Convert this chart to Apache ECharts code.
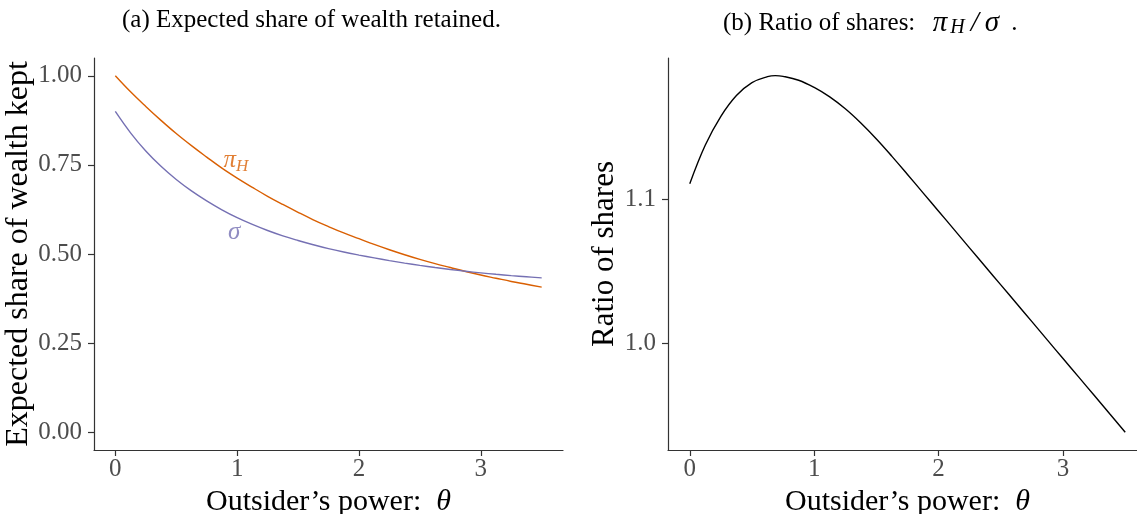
<!DOCTYPE html>
<html>
<head>
<meta charset="utf-8">
<script src="https://cdn.jsdelivr.net/npm/echarts@6/dist/echarts.min.js"></script>
<style>html,body{margin:0;padding:0;background:#fff;}#c{width:1137px;height:514px;}</style>
</head>
<body>
<div id="c"></div>
<script>
// ---- data ----
const theta = [0, 0.125, 0.25, 0.375, 0.5, 0.625, 0.75, 0.875, 1.0, 1.125, 1.25, 1.375, 1.5, 1.625, 1.75, 1.875,
               2.0, 2.125, 2.25, 2.375, 2.5, 2.625, 2.75, 2.875, 3.0, 3.125, 3.25, 3.375, 3.5];
const piH   = [1.000, 0.955, 0.914, 0.875, 0.838, 0.804, 0.772, 0.741, 0.713, 0.687, 0.662, 0.639, 0.617, 0.596, 0.577, 0.559,
               0.543, 0.527, 0.512, 0.498, 0.485, 0.473, 0.462, 0.451, 0.441, 0.432, 0.423, 0.415, 0.407];
const sigma = [0.900, 0.840, 0.789, 0.746, 0.709, 0.677, 0.649, 0.624, 0.602, 0.583, 0.566, 0.551, 0.538, 0.526, 0.515, 0.5055,
               0.497, 0.489, 0.4815, 0.4745, 0.468, 0.462, 0.4565, 0.4515, 0.447, 0.443, 0.4393, 0.436, 0.433];
// ratio curve (panel b) is read with an extra point at its peak
const thetaB = [0, 0.125, 0.25, 0.375, 0.5, 0.625, 0.6875, 0.75, 0.875, 1.0, 1.125, 1.25, 1.375, 1.5, 1.625, 1.75, 1.875,
                2.0, 2.125, 2.25, 2.375, 2.5, 2.625, 2.75, 2.875, 3.0, 3.125, 3.25, 3.375, 3.5];
const ratio = [1.111, 1.138, 1.158, 1.1725, 1.1815, 1.1856, 1.1863, 1.1858, 1.1831, 1.1781, 1.1715, 1.1632, 1.1533, 1.1422, 1.1301, 1.1175, 1.1047,
               1.0919, 1.0791, 1.0662, 1.0534, 1.0406, 1.0278, 1.0150, 1.0021, 0.9893, 0.9765, 0.9637, 0.9508, 0.938];
const xTicks = [0, 1, 2, 3];
const yTicksA = [0, 0.25, 0.5, 0.75, 1.0];
const yTicksB = [1.0, 1.1];
// label anchors (data coords)
const labelPi = [0.99, 0.762];
const labelSigma = [0.975, 0.56];

const FONT = 'Liberation Serif';
const ORANGE = '#D95F02', PURPLE = '#7570B3';
const pair = (xs, ys) => xs.map((x, i) => [x, ys[i]]);

function xAxis(idx) {
  return {
    type: 'value', gridIndex: idx, min: -0.175, max: 3.675,
    name: 'Outsider’s power:  {i|θ}', nameLocation: 'middle', nameGap: 30,
    nameTextStyle: { fontFamily: FONT, fontSize: 30, color: '#000',
      rich: { i: { fontFamily: FONT, fontSize: 30, fontStyle: 'italic', color: '#000' } } },
    splitLine: { show: false },
    axisLine: { show: true, onZero: false, lineStyle: { color: '#333', width: 1.2 } },
    axisTick: { show: true, length: 6, lineStyle: { color: '#333', width: 1.2 }, customValues: xTicks },
    axisLabel: { color: '#4d4d4d', fontFamily: FONT, fontSize: 25, margin: 7, customValues: xTicks,
      formatter: v => String(v) }
  };
}
function yAxis(idx, name, min, max, ticks, dec, gap, size) {
  return {
    type: 'value', gridIndex: idx, min: min, max: max,
    name: name, nameLocation: 'middle', nameGap: gap, nameRotate: 90,
    nameTextStyle: { fontFamily: FONT, fontSize: size, color: '#000' },
    splitLine: { show: false },
    axisLine: { show: true, onZero: false, lineStyle: { color: '#333', width: 1.2 } },
    axisTick: { show: true, length: 6, lineStyle: { color: '#333', width: 1.2 }, customValues: ticks },
    axisLabel: { color: '#4d4d4d', fontFamily: FONT, fontSize: 25, margin: 12, customValues: ticks,
      formatter: v => Number(v).toFixed(dec) }
  };
}

const chart = echarts.init(document.getElementById('c'), null, { renderer: 'canvas' });
chart.setOption({
  animation: false,
  backgroundColor: '#fff',
  title: [
    { text: '(a) Expected share of wealth retained.', left: 117, top: 3,
      textStyle: { fontFamily: FONT, fontSize: 25, fontWeight: 'normal', color: '#000' } },
    { text: '(b) Ratio of shares:  {i|π}{s|H}{m|/}{i|σ}{p|.}', left: 718, top: 3,
      textStyle: { fontFamily: FONT, fontSize: 25, fontWeight: 'normal', color: '#000', lineHeight: 30,
        rich: {
          i: { fontFamily: FONT, fontSize: 29, fontStyle: 'italic', color: '#000', lineHeight: 30, padding: [0, 0, 0, 5] },
          s: { fontFamily: FONT, fontSize: 20, fontStyle: 'italic', color: '#000', verticalAlign: 'bottom', lineHeight: 30, padding: [0, 3, 0, 3] },
          m: { fontFamily: FONT, fontSize: 29, fontStyle: 'italic', color: '#000', lineHeight: 30, padding: [0, 1, 0, 3] },
          p: { fontFamily: FONT, fontSize: 25, color: '#000', lineHeight: 30, padding: [0, 0, 0, 12] }
        } } }
  ],
  grid: [
    { left: 94, top: 58, width: 469, bottom: 64, containLabel: false, outerBoundsMode: 'none' },
    { left: 668, top: 58, right: -10, bottom: 64, containLabel: false, outerBoundsMode: 'none' }
  ],
  xAxis: [xAxis(0), xAxis(1)],
  yAxis: [
    yAxis(0, 'Expected share of wealth kept', -0.05, 1.05, yTicksA, 2, 41, 32),
    yAxis(1, 'Ratio of shares', 0.9256, 1.1986, yTicksB, 1, 46, 31)
  ],
  series: [
    { type: 'line', xAxisIndex: 0, yAxisIndex: 0, data: pair(theta, piH), smooth: 0.4,
      showSymbol: false, lineStyle: { color: ORANGE, width: 1.4 } },
    { type: 'line', xAxisIndex: 0, yAxisIndex: 0, data: pair(theta, sigma), smooth: 0.4,
      showSymbol: false, lineStyle: { color: PURPLE, width: 1.4 } },
    { type: 'line', xAxisIndex: 1, yAxisIndex: 1, data: pair(thetaB, ratio), smooth: 0.4,
      showSymbol: false, lineStyle: { color: '#000', width: 1.4 } },
    { type: 'scatter', xAxisIndex: 0, yAxisIndex: 0, symbolSize: 0, silent: true,
      data: [
        { value: labelPi, label: { show: true, position: 'inside', formatter: '{i|π}{s|H}',
          rich: {
            i: { fontFamily: FONT, fontSize: 25, fontStyle: 'italic', color: ORANGE, lineHeight: 28 },
            s: { fontFamily: FONT, fontSize: 17, fontStyle: 'italic', color: ORANGE, verticalAlign: 'bottom', lineHeight: 28 }
          } } },
        { value: labelSigma, label: { show: true, position: 'inside', formatter: '{i|σ}',
          rich: { i: { fontFamily: FONT, fontSize: 25, fontStyle: 'italic', color: PURPLE } } } }
      ] }
  ]
});
</script>
</body>
</html>
